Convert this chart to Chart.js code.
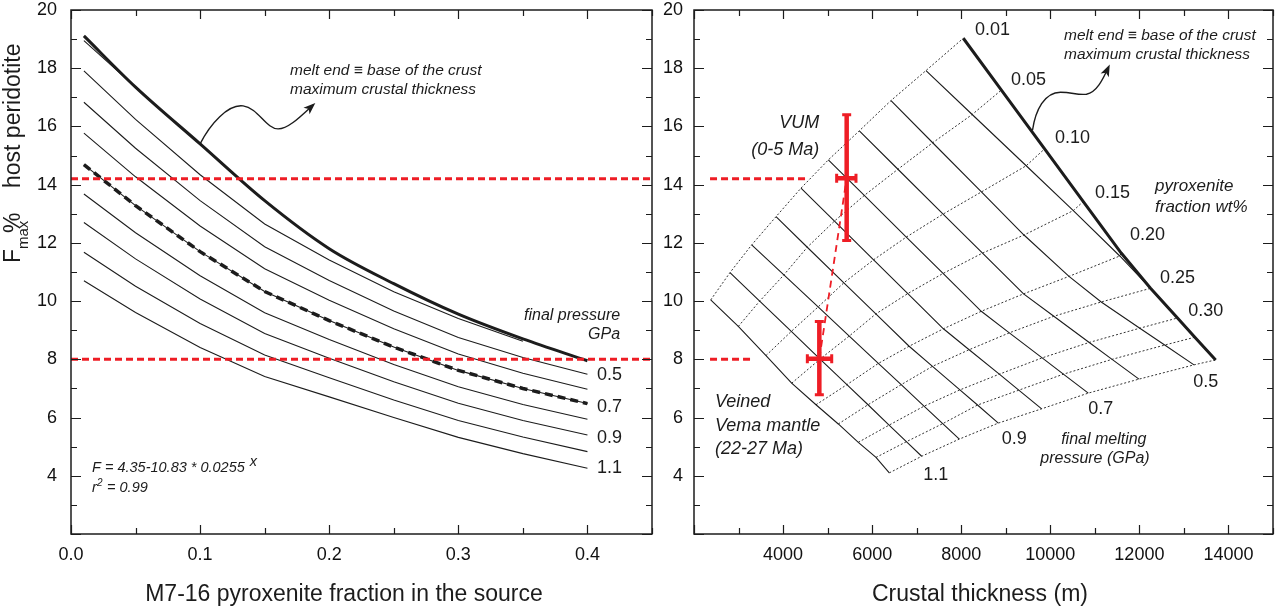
<!DOCTYPE html>
<html>
<head>
<meta charset="utf-8">
<script src="https://cdn.jsdelivr.net/npm/chart.js@4.4.1/dist/chart.umd.min.js"></script>
<style>
	html, body { margin: 0; padding: 0; background: #fff; }
	#wrap { position: relative; width: 1275px; height: 610px; overflow: hidden; }
	#left { position: absolute; left: 0; top: 0; }
	#right { position: absolute; left: 655px; top: 0; }
</style>
</head>
<body>
<div id="wrap">
	<canvas id="left" width="655" height="610"></canvas>
	<canvas id="right" width="620" height="610"></canvas>
</div>
<script>
// ---- Left panel: F max vs pyroxenite fraction, one curve per final pressure (GPa)
const fractions = [0.01, 0.05, 0.10, 0.15, 0.20, 0.25, 0.30, 0.35, 0.40];
const meltEnd = [19.11, 17.35, 15.40, 13.45, 11.80, 10.60, 9.55, 8.70, 7.95];
const fP03 = [18.95, 17.35];
const fP04 = [17.91, 16.24, 14.34, 12.65, 11.41, 10.32, 9.40, 8.62];
const fP05 = [16.83, 15.25, 13.45, 11.87, 10.71, 9.66, 8.75, 8.06, 7.49];
const fP06 = [15.77, 14.27, 12.58, 11.11, 10.03, 9.05, 8.18, 7.52, 6.97];
const fP07 = [14.69, 13.28, 11.70, 10.33, 9.33, 8.42, 7.62, 7.00, 6.48];
const fP08 = [13.68, 12.35, 10.87, 9.60, 8.68, 7.82, 7.06, 6.45, 5.94];
const fP09 = [12.70, 11.45, 10.07, 8.89, 8.04, 7.23, 6.49, 5.90, 5.40];
const fP10 = [11.68, 10.51, 9.23, 8.15, 7.37, 6.60, 5.90, 5.33, 4.83];
const fP11 = [10.70, 9.61, 8.41, 7.41, 6.71, 6.00, 5.32, 4.76, 4.26];
const refLevels = [14.2, 8.0];

// ---- Right panel: crustal thickness (m) and F max for each final pressure line
const cP12 = [2375, 2995, 3617, 4193, 4739, 5240, 5689, 6086, 6385];
const mP12 = [10.04, 9.13, 8.13, 7.18, 6.44, 5.78, 5.15, 4.63, 4.10];
const cP11 = [2808, 3475, 4185, 4831, 5433, 5907, 6380, 6768, 7112];
const mP11 = [10.98, 10.00, 8.96, 8.01, 7.13, 6.44, 5.74, 5.17, 4.67];
const cP10 = [3295, 4018, 4787, 5486, 6139, 6652, 7164, 7584, 7957];
const mP10 = [11.93, 10.90, 9.80, 8.80, 7.86, 7.13, 6.39, 5.79, 5.26];
const cP09 = [3841, 4543, 5365, 6083, 6830, 7355, 7970, 8366, 8833];
const mP09 = [12.90, 11.85, 10.63, 9.56, 8.45, 7.76, 6.95, 6.43, 5.81];
const cP08 = [4402, 5154, 6033, 6801, 7600, 8178, 8855, 9292, 9806];
const mP08 = [13.88, 12.75, 11.42, 10.26, 9.05, 8.33, 7.49, 6.94, 6.30];
const cP07 = [5016, 5823, 6767, 7592, 8450, 9080, 9817, 10293, 10853];
const mP07 = [14.85, 13.63, 12.20, 10.95, 9.65, 8.91, 8.05, 7.49, 6.84];
const cP06 = [5712, 6579, 7593, 8478, 9400, 10079, 10874, 11387, 11991];
const mP06 = [15.85, 14.53, 12.99, 11.65, 10.25, 9.48, 8.58, 8.00, 7.32];
const cP05 = [6423, 7359, 8453, 9409, 10420, 11143, 12010, 12568, 13226];
const mP05 = [16.89, 15.44, 13.75, 12.27, 10.85, 9.97, 9.07, 8.49, 7.81];
const cP04 = [7209, 8246, 9459, 10517, 11560, 12250];
const mP04 = [17.92, 16.41, 14.65, 13.11, 11.55, 10.44];
const cBase = [8046, 8902, 9872, 10741, 11592, 12250, 12856, 13245, 13713];
const mBase = [19.03, 17.25, 15.23, 13.42, 11.65, 10.44, 9.42, 8.76, 7.98];

// samples with error bars [low, centre, high]
const vumCrust = [5203, 5428, 5637];
const vumF = [12.08, 14.22, 16.40];
const vemaCrust = [4545, 4814, 5092];
const vemaF = [6.78, 8.02, 9.30];
const refCrustFrom = [2360, 2360];
const refCrustTo = [4566, 3331];

const RED = "#ee1d25";
const INK = "#1c1c1c";
const FONT = '"Liberation Sans", Arial, Helvetica, sans-serif';

function xy(xs, ys) {
	return ys.map((y, i) => ({ x: xs[i], y: y }));
}

function line(data, width, dash, color) {
	return {
		data: data,
		showLine: true,
		pointRadius: 0,
		borderColor: color || INK,
		borderWidth: width,
		borderDash: dash || [],
		fill: false,
		tension: 0,
	};
}

function noPad(s) {
	s.paddingTop = 0;
	s.paddingBottom = 0;
	s.paddingLeft = 0;
	s.paddingRight = 0;
}

function axisOptions(xMin, xMax, xStep, xLabel, yWidth, yPad, rightPad) {
	return {
		responsive: false,
		animation: false,
		devicePixelRatio: 1,
		layout: { padding: { left: 0, right: rightPad, top: 10, bottom: 0 } },
		plugins: { legend: { display: false }, tooltip: { enabled: false } },
		scales: {
			x: {
				type: "linear",
				min: xMin,
				max: xMax,
				grid: { display: false, drawTicks: false },
				border: { display: false },
				ticks: {
					stepSize: xStep,
					autoSkip: false,
					maxRotation: 0,
					padding: 10,
					color: "#111",
					font: { family: FONT, size: 18 },
					callback: xLabel,
				},
				afterFit: (s) => { s.height = 76; noPad(s); },
			},
			y: {
				type: "linear",
				min: 2,
				max: 20,
				grid: { display: false, drawTicks: false },
				border: { display: false },
				ticks: {
					stepSize: 1,
					autoSkip: false,
					padding: yPad,
					color: "#111",
					font: { family: FONT, size: 18 },
					callback: (v) => (v % 2 === 0 && v >= 4 ? String(v) : ""),
				},
				afterFit: (s) => { s.width = yWidth; noPad(s); },
			},
		},
	};
}

// frame with inward ticks on all four sides
function drawFrame(chart, isMajorX) {
	const { ctx, chartArea: a, scales } = chart;
	ctx.save();
	ctx.strokeStyle = INK;
	ctx.lineWidth = 1.5;
	ctx.strokeRect(a.left, a.top, a.right - a.left, a.bottom - a.top);
	ctx.lineWidth = 1.2;
	ctx.beginPath();
	scales.x.ticks.forEach((t) => {
		const p = Math.round(scales.x.getPixelForValue(t.value)) + 0.5;
		const len = isMajorX(t.value) ? 9 : 6;
		ctx.moveTo(p, a.bottom); ctx.lineTo(p, a.bottom - len);
		ctx.moveTo(p, a.top); ctx.lineTo(p, a.top + len);
	});
	scales.y.ticks.forEach((t) => {
		const p = Math.round(scales.y.getPixelForValue(t.value)) + 0.5;
		const len = t.value % 2 === 0 ? 10 : 6;
		ctx.moveTo(a.left, p); ctx.lineTo(a.left + len, p);
		ctx.moveTo(a.right, p); ctx.lineTo(a.right - len, p);
	});
	ctx.stroke();
	ctx.restore();
}

function at(chart, xv, yv) {
	return [chart.scales.x.getPixelForValue(xv), chart.scales.y.getPixelForValue(yv)];
}

function text(ctx, s, x, y, font, align) {
	ctx.font = font;
	ctx.textAlign = align || "left";
	ctx.textBaseline = "middle";
	ctx.fillStyle = INK;
	ctx.fillText(s, x, y);
}

// wavy annotation arrow: start point then [c1, c2, end] triples as pixel offsets
function wavyArrow(ctx, sx, sy, segs) {
	ctx.save();
	ctx.strokeStyle = INK;
	ctx.fillStyle = INK;
	ctx.lineWidth = 1.4;
	ctx.beginPath();
	ctx.moveTo(sx, sy);
	segs.forEach((s) => {
		ctx.bezierCurveTo(sx + s[0], sy + s[1], sx + s[2], sy + s[3], sx + s[4], sy + s[5]);
	});
	ctx.stroke();
	const last = segs[segs.length - 1];
	const ex = sx + last[4], ey = sy + last[5];
	const ang = Math.atan2(last[5] - last[3], last[4] - last[2]);
	ctx.beginPath();
	ctx.moveTo(ex + 3 * Math.cos(ang), ey + 3 * Math.sin(ang));
	ctx.lineTo(ex - 9 * Math.cos(ang) + 4.5 * Math.sin(ang), ey - 9 * Math.sin(ang) - 4.5 * Math.cos(ang));
	ctx.lineTo(ex - 6 * Math.cos(ang), ey - 6 * Math.sin(ang));
	ctx.lineTo(ex - 9 * Math.cos(ang) - 4.5 * Math.sin(ang), ey - 9 * Math.sin(ang) + 4.5 * Math.cos(ang));
	ctx.closePath();
	ctx.fill();
	ctx.restore();
}

function errorBar(chart, xs, ys) {
	const { ctx } = chart;
	const [cx, cy] = at(chart, xs[1], ys[1]);
	const [x0] = at(chart, xs[0], ys[1]);
	const [x1] = at(chart, xs[2], ys[1]);
	const y0 = chart.scales.y.getPixelForValue(ys[0]);
	const y1 = chart.scales.y.getPixelForValue(ys[2]);
	ctx.save();
	ctx.strokeStyle = RED;
	ctx.lineWidth = 4.5;
	ctx.beginPath();
	ctx.moveTo(cx, y0); ctx.lineTo(cx, y1);
	ctx.moveTo(x0, cy); ctx.lineTo(x1, cy);
	ctx.stroke();
	ctx.lineWidth = 3;
	ctx.beginPath();
	ctx.moveTo(cx - 4.5, y0); ctx.lineTo(cx + 4.5, y0);
	ctx.moveTo(cx - 4.5, y1); ctx.lineTo(cx + 4.5, y1);
	ctx.moveTo(x0, cy - 4.5); ctx.lineTo(x0, cy + 4.5);
	ctx.moveTo(x1, cy - 4.5); ctx.lineTo(x1, cy + 4.5);
	ctx.stroke();
	ctx.restore();
}

// ---------------- Left chart ----------------
const leftCurves = [fP03, fP04, fP05, fP06, fP07, fP08, fP09, fP10, fP11];
const leftSets = [];
refLevels.forEach((v) => leftSets.push(line([{ x: 0, y: v }, { x: 0.45, y: v }], 3, [7, 4], RED)));
leftSets.push(line(xy(fractions, fP07), 3.5, [8, 5]));
const meltSet = line(xy(fractions, meltEnd), 3);
meltSet.cubicInterpolationMode = "monotone";
leftSets.push(meltSet);
leftCurves.forEach((c) => leftSets.push(line(xy(fractions, c), 1.1)));

const leftDecor = {
	id: "leftDecor",
	afterDraw(chart) {
		const ctx = chart.ctx;
		const isMajor = (v) => Math.round(v * 100) % 10 === 0;
		drawFrame(chart, isMajor);
		ctx.save();
		const it = `italic 15.5px ${FONT}`;
		let p = at(chart, 0.1696, 17.91);
		text(ctx, "melt end \u2261 base of the crust", p[0], p[1], it);
		p = at(chart, 0.1696, 17.25);
		text(ctx, "maximum crustal thickness", p[0], p[1], it);
		p = at(chart, 0.4253, 9.52);
		text(ctx, "final pressure", p[0], p[1], `italic 16px ${FONT}`, "right");
		p = at(chart, 0.4253, 8.84);
		text(ctx, "GPa", p[0], p[1], `italic 16px ${FONT}`, "right");
		[["0.5", 7.46], ["0.7", 6.36], ["0.9", 5.30], ["1.1", 4.27]].forEach((l) => {
			const q = at(chart, 0.4074, l[1]);
			text(ctx, l[0], q[0], q[1], `18px ${FONT}`);
		});
		p = at(chart, 0.0163, 4.27);
		const eq = "F = 4.35-10.83 * 0.0255";
		text(ctx, eq, p[0], p[1], `italic 14.5px ${FONT}`);
		const w = ctx.measureText(eq).width;
		text(ctx, "x", p[0] + w + 5, p[1] - 6, `italic 14.5px ${FONT}`);
		p = at(chart, 0.0163, 3.58);
		text(ctx, "r", p[0], p[1], `italic 14.5px ${FONT}`);
		text(ctx, "2", p[0] + 5, p[1] - 5, `italic 10px ${FONT}`);
		text(ctx, "= 0.99", p[0] + 15, p[1], `italic 14.5px ${FONT}`);
		p = at(chart, 0.1, 15.40);
		wavyArrow(ctx, p[0], p[1], [
			[10, -20, 28, -40, 43, -38],
			[58, -36, 66, -15, 78, -15],
			[88, -15, 100, -27, 113, -39],
		]);
		// axis titles
		text(ctx, "M7-16 pyroxenite fraction in the source", 344, 595, `23px ${FONT}`, "center");
		ctx.translate(20, 263);
		ctx.rotate(-Math.PI / 2);
		ctx.textBaseline = "alphabetic";
		ctx.textAlign = "left";
		ctx.fillStyle = INK;
		ctx.font = `23px ${FONT}`;
		ctx.fillText("F", 0, 0);
		ctx.font = `15px ${FONT}`;
		ctx.fillText("max", 14, 8);
		ctx.font = `23px ${FONT}`;
		ctx.fillText("%", 30, 0);
		ctx.fillText("host peridotite", 75, 0);
		ctx.restore();
	},
};

new Chart(document.getElementById("left"), {
	type: "scatter",
	data: { datasets: leftSets },
	options: axisOptions(
		0, 0.45, 0.05,
		(v) => {
			const k = Math.round(v * 100);
			return k % 10 === 0 && k <= 40 ? (k / 100).toFixed(1) : "";
		},
		71, 14, 3,
	),
	plugins: [leftDecor],
});

// ---------------- Right chart ----------------
const crustLines = [cP12, cP11, cP10, cP09, cP08, cP07, cP06, cP05, cP04];
const fLines = [mP12, mP11, mP10, mP09, mP08, mP07, mP06, mP05, mP04];
const rightSets = [];
refLevels.forEach((v, i) =>
	rightSets.push(line([{ x: refCrustFrom[i], y: v }, { x: refCrustTo[i], y: v }], 3, [7, 4], RED)),
);
rightSets.push(line([{ x: vemaCrust[1], y: vemaF[1] }, { x: vumCrust[1], y: vumF[1] }], 1.8, [7, 5], RED));
rightSets.push(line(xy(cBase, mBase), 3));
crustLines.forEach((c, i) => rightSets.push(line(xy(c, fLines[i]), 1.1)));
// dotted lines of constant pyroxenite fraction, through every pressure line
fractions.forEach((f, j) => {
	const pts = [];
	crustLines.forEach((c, i) => {
		if (j < c.length) pts.push({ x: c[j], y: fLines[i][j] });
	});
	pts.push({ x: cBase[j], y: mBase[j] });
	rightSets.push(line(pts, 1, [2, 2], "#333"));
});

const rightDecor = {
	id: "rightDecor",
	afterDraw(chart) {
		const ctx = chart.ctx;
		errorBar(chart, vumCrust, vumF);
		errorBar(chart, vemaCrust, vemaF);
		drawFrame(chart, (v) => v % 2000 === 0);
		ctx.save();
		const num = `18px ${FONT}`;
		[["0.01", 8309, 19.31], ["0.05", 9117, 17.60], ["0.10", 10105, 15.61], ["0.15", 11003, 13.70],
			["0.20", 11789, 12.27], ["0.25", 12463, 10.80], ["0.30", 13098, 9.66],
			["0.5", 13211, 7.21], ["0.7", 10853, 6.29], ["0.9", 8909, 5.26], ["1.1", 7149, 4.03]].forEach((l) => {
			const q = at(chart, l[1], l[2]);
			text(ctx, l[0], q[0], q[1], num);
		});
		const it = `italic 15.5px ${FONT}`;
		let p = at(chart, 10308, 19.12);
		text(ctx, "melt end \u2261 base of the crust", p[0], p[1], it);
		p = at(chart, 10308, 18.45);
		text(ctx, "maximum crustal thickness", p[0], p[1], it);
		p = at(chart, 12351, 13.93);
		text(ctx, "pyroxenite", p[0], p[1], `italic 17px ${FONT}`);
		p = at(chart, 12351, 13.24);
		text(ctx, "fraction wt%", p[0], p[1], `italic 17px ${FONT}`);
		p = at(chart, 12160, 5.23);
		text(ctx, "final melting", p[0], p[1], `italic 16px ${FONT}`, "right");
		p = at(chart, 12230, 4.58);
		text(ctx, "pressure (GPa)", p[0], p[1], `italic 16px ${FONT}`, "right");
		const big = `italic 18px ${FONT}`;
		p = at(chart, 4813, 16.11);
		text(ctx, "VUM", p[0], p[1], big, "right");
		p = at(chart, 4813, 15.19);
		text(ctx, "(0-5 Ma)", p[0], p[1], big, "right");
		p = at(chart, 2471, 6.52);
		text(ctx, "Veined", p[0], p[1], big);
		p = at(chart, 2471, 5.71);
		text(ctx, "Vema mantle", p[0], p[1], big);
		p = at(chart, 2471, 4.92);
		text(ctx, "(22-27 Ma)", p[0], p[1], big);
		p = at(chart, 9600, 15.87);
		wavyArrow(ctx, p[0], p[1], [
			[3, -20, 12, -38, 28, -38],
			[40, -38, 44, -35, 54, -36],
			[64, -38, 70, -50, 76, -63],
		]);
		text(ctx, "Crustal thickness (m)", 325, 595, `23px ${FONT}`, "center");
		ctx.restore();
	},
};

new Chart(document.getElementById("right"), {
	type: "scatter",
	data: { datasets: rightSets },
	options: axisOptions(
		2000, 15000, 1000,
		(v) => (v % 2000 === 0 && v >= 4000 && v <= 14000 ? String(v) : ""),
		39, 11, 2,
	),
	plugins: [rightDecor],
});
</script>
</body>
</html>
